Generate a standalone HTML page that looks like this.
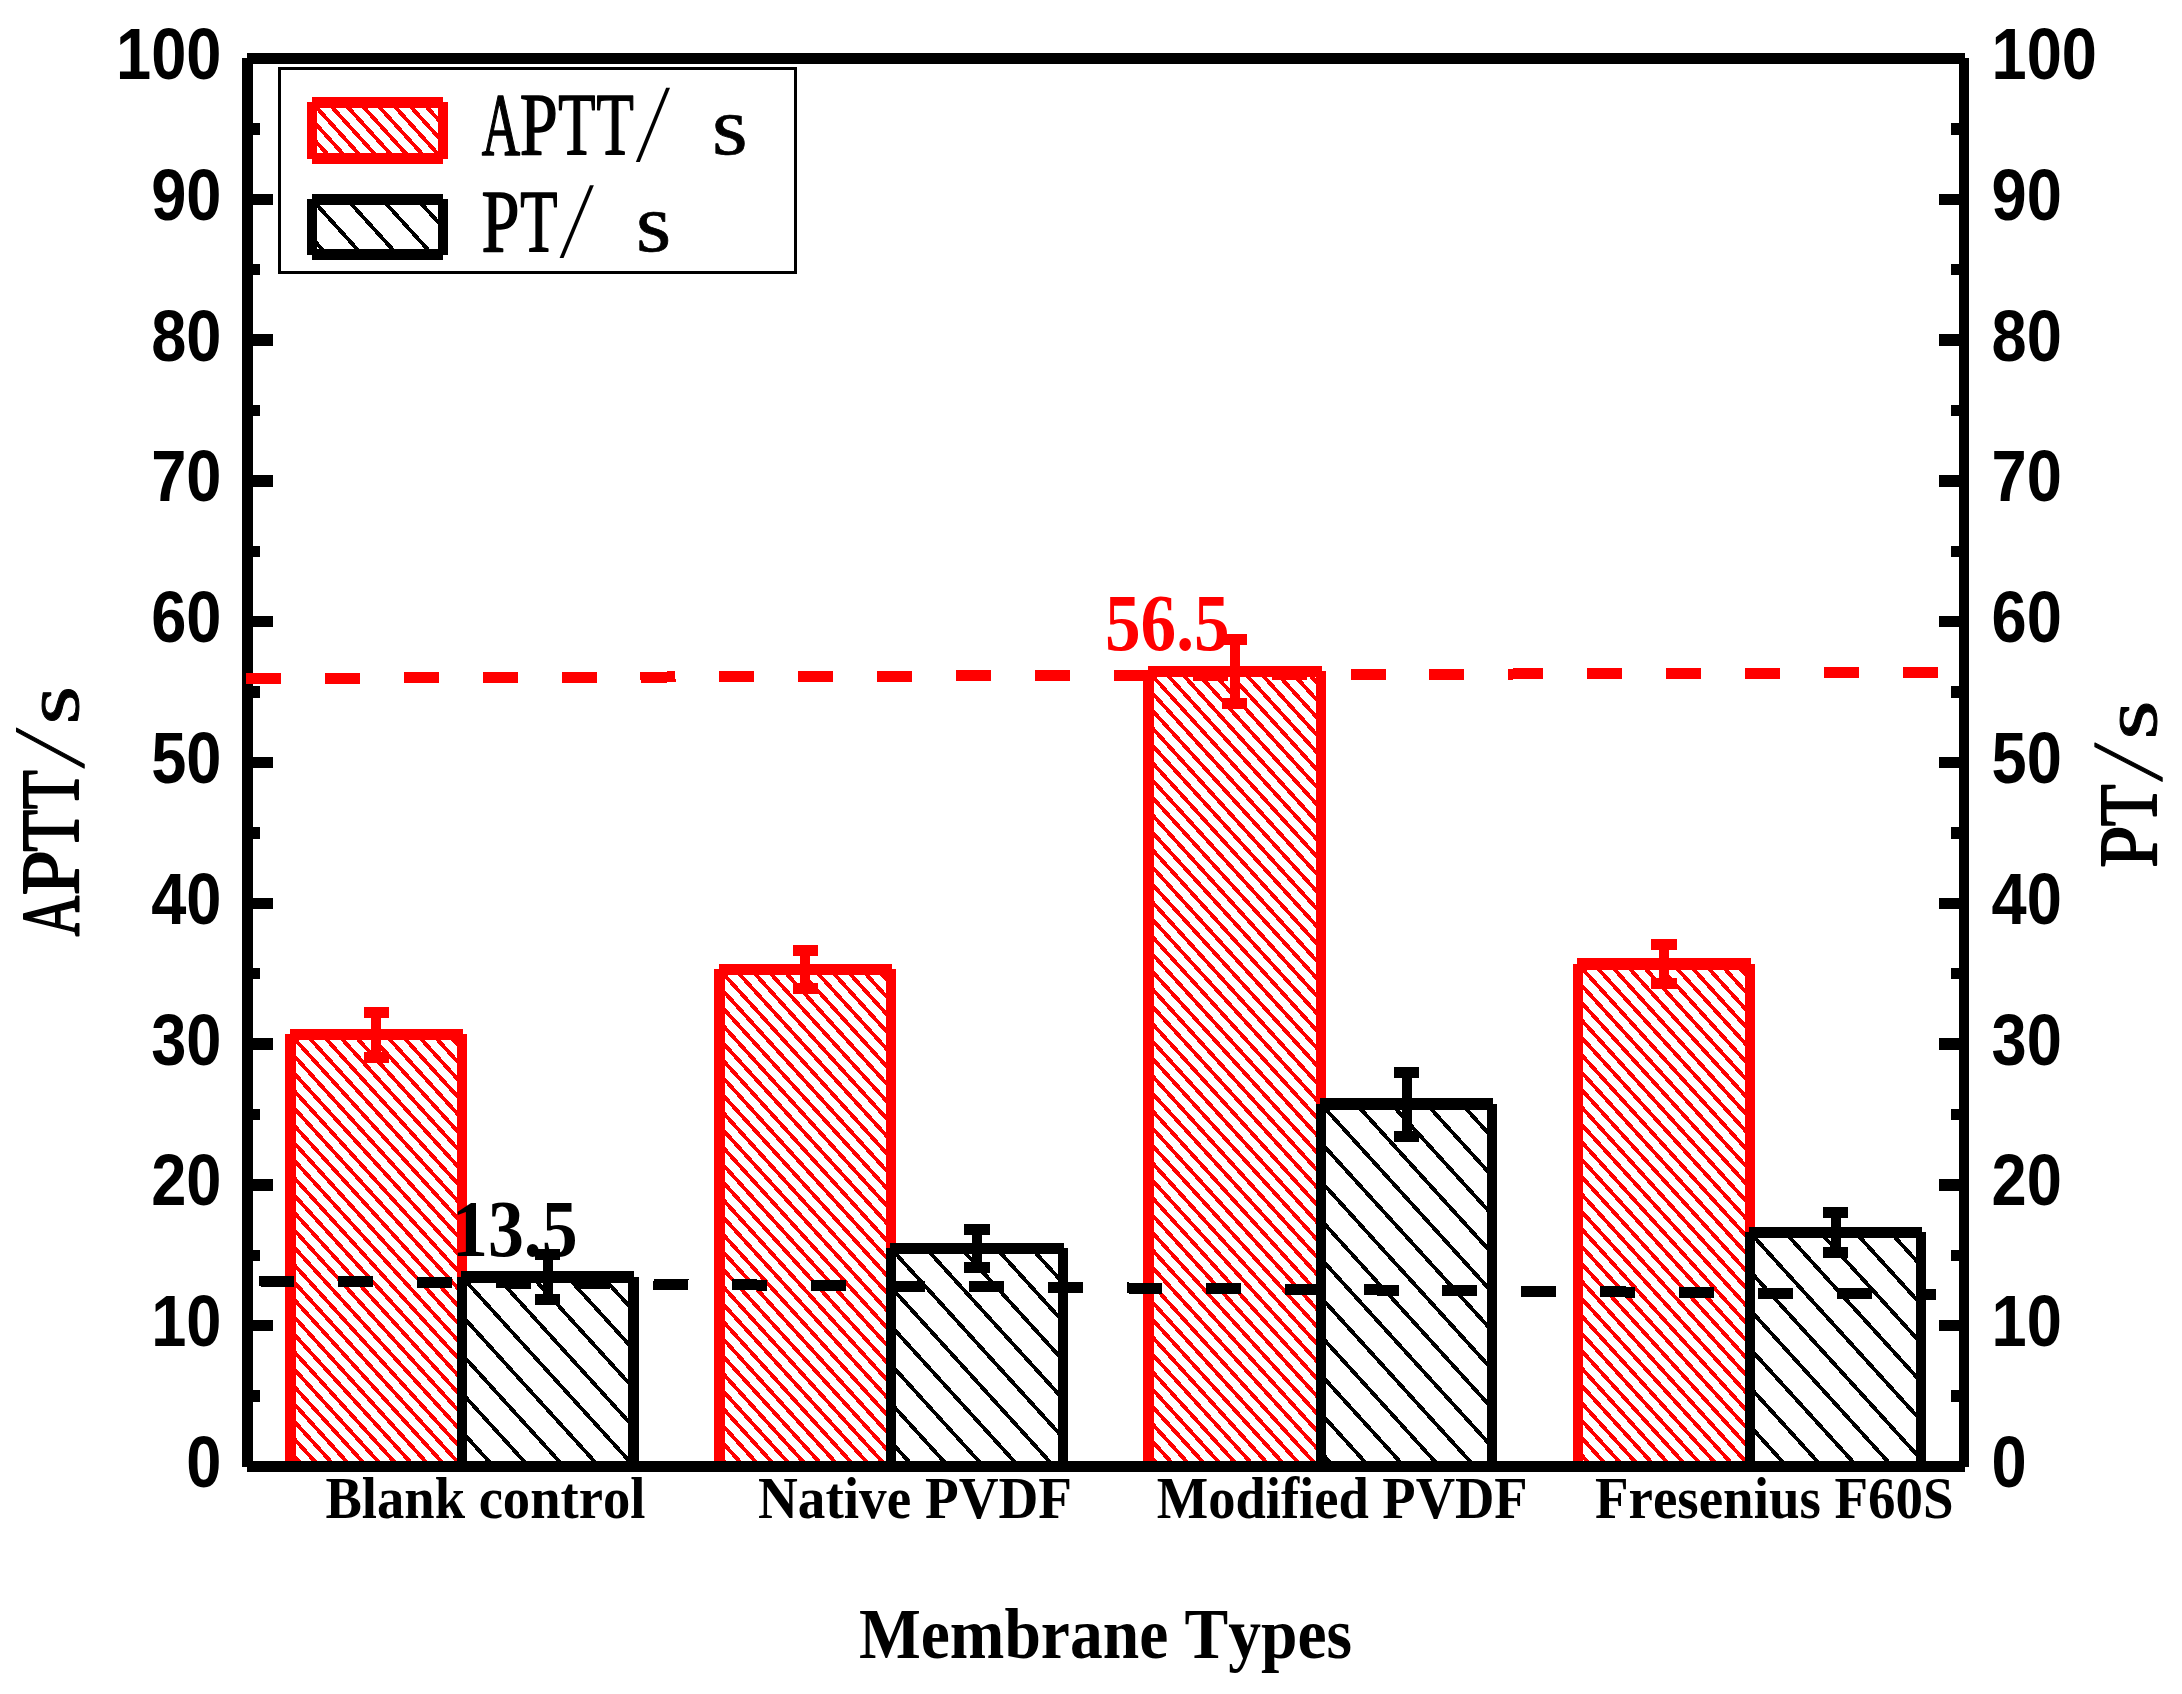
<!DOCTYPE html>
<html lang="en"><head><meta charset="utf-8"><title>APTT and PT of membrane types</title>
<style>html,body{margin:0;padding:0;background:#fff}svg{display:block}.ab{font-family:"Liberation Sans",Arial,sans-serif;font-weight:bold;font-kerning:none}.tb{font-family:"Liberation Serif","Times New Roman",serif;font-weight:bold;font-kerning:none}.ss{font-family:"Liberation Serif","Noto Serif CJK SC",serif}</style></head><body>
<svg width="2182" height="1694" viewBox="0 0 2182 1694">
<rect width="2182" height="1694" fill="#fff"/>
<defs>
<clipPath id="c0"><rect x="290.5" y="1034.5" width="171.5" height="432.0"/></clipPath>
<clipPath id="c1"><rect x="462.0" y="1277.0" width="171.5" height="189.5"/></clipPath>
<clipPath id="c2"><rect x="719.5" y="969.5" width="171.5" height="497.0"/></clipPath>
<clipPath id="c3"><rect x="891.0" y="1248.5" width="172.0" height="218.0"/></clipPath>
<clipPath id="c4"><rect x="1148.5" y="671.5" width="172.5" height="795.0"/></clipPath>
<clipPath id="c5"><rect x="1321.0" y="1104.0" width="171.0" height="362.5"/></clipPath>
<clipPath id="c6"><rect x="1578.0" y="964.0" width="172.0" height="502.5"/></clipPath>
<clipPath id="c7"><rect x="1750.0" y="1232.5" width="171.0" height="234.0"/></clipPath>
<clipPath id="c8"><rect x="312.0" y="102.5" width="131.0" height="56.0"/></clipPath>
<clipPath id="c9"><rect x="312.0" y="199.5" width="131.0" height="55.0"/></clipPath>
</defs>
<path clip-path="url(#c0)" d="M290.5 825.7L462.0 1014.4M290.5 843.1L462.0 1031.8M290.5 860.5L462.0 1049.2M290.5 877.9L462.0 1066.6M290.5 895.3L462.0 1084.0M290.5 912.7L462.0 1101.4M290.5 930.1L462.0 1118.8M290.5 947.5L462.0 1136.2M290.5 964.9L462.0 1153.6M290.5 982.3L462.0 1171.0M290.5 999.7L462.0 1188.4M290.5 1017.1L462.0 1205.8M290.5 1034.5L462.0 1223.2M290.5 1051.9L462.0 1240.6M290.5 1069.3L462.0 1258.0M290.5 1086.7L462.0 1275.4M290.5 1104.1L462.0 1292.8M290.5 1121.5L462.0 1310.2M290.5 1138.9L462.0 1327.6M290.5 1156.3L462.0 1345.0M290.5 1173.7L462.0 1362.4M290.5 1191.1L462.0 1379.8M290.5 1208.5L462.0 1397.2M290.5 1225.9L462.0 1414.6M290.5 1243.3L462.0 1432.0M290.5 1260.7L462.0 1449.4M290.5 1278.1L462.0 1466.8M290.5 1295.5L462.0 1484.2M290.5 1312.9L462.0 1501.6M290.5 1330.3L462.0 1519.0M290.5 1347.7L462.0 1536.4M290.5 1365.1L462.0 1553.8M290.5 1382.5L462.0 1571.2M290.5 1399.9L462.0 1588.6M290.5 1417.3L462.0 1606.0M290.5 1434.7L462.0 1623.4M290.5 1452.1L462.0 1640.8M290.5 1469.5L462.0 1658.2M290.5 1486.9L462.0 1675.6" stroke="#ff0000" stroke-width="3.9" fill="none" shape-rendering="crispEdges"/>
<path clip-path="url(#c1)" d="M462.0 1044.8L633.5 1233.5M462.0 1083.5L633.5 1272.2M462.0 1122.2L633.5 1310.9M462.0 1160.9L633.5 1349.6M462.0 1199.6L633.5 1388.2M462.0 1238.3L633.5 1427.0M462.0 1277.0L633.5 1465.7M462.0 1315.7L633.5 1504.4M462.0 1354.4L633.5 1543.1M462.0 1393.1L633.5 1581.8M462.0 1431.8L633.5 1620.5M462.0 1470.5L633.5 1659.2M462.0 1509.2L633.5 1697.9" stroke="#000" stroke-width="3.85" fill="none" shape-rendering="crispEdges"/>
<path clip-path="url(#c2)" d="M719.5 760.7L891.0 949.4M719.5 778.1L891.0 966.8M719.5 795.5L891.0 984.2M719.5 812.9L891.0 1001.6M719.5 830.3L891.0 1019.0M719.5 847.7L891.0 1036.4M719.5 865.1L891.0 1053.8M719.5 882.5L891.0 1071.2M719.5 899.9L891.0 1088.6M719.5 917.3L891.0 1106.0M719.5 934.7L891.0 1123.4M719.5 952.1L891.0 1140.8M719.5 969.5L891.0 1158.2M719.5 986.9L891.0 1175.6M719.5 1004.3L891.0 1193.0M719.5 1021.7L891.0 1210.4M719.5 1039.1L891.0 1227.8M719.5 1056.5L891.0 1245.2M719.5 1073.9L891.0 1262.6M719.5 1091.3L891.0 1280.0M719.5 1108.7L891.0 1297.4M719.5 1126.1L891.0 1314.8M719.5 1143.5L891.0 1332.2M719.5 1160.9L891.0 1349.6M719.5 1178.3L891.0 1367.0M719.5 1195.7L891.0 1384.4M719.5 1213.1L891.0 1401.8M719.5 1230.5L891.0 1419.2M719.5 1247.9L891.0 1436.6M719.5 1265.3L891.0 1454.0M719.5 1282.7L891.0 1471.4M719.5 1300.1L891.0 1488.8M719.5 1317.5L891.0 1506.2M719.5 1334.9L891.0 1523.6M719.5 1352.3L891.0 1541.0M719.5 1369.7L891.0 1558.4M719.5 1387.1L891.0 1575.8M719.5 1404.5L891.0 1593.2M719.5 1421.9L891.0 1610.6M719.5 1439.3L891.0 1628.0M719.5 1456.7L891.0 1645.3M719.5 1474.1L891.0 1662.8M719.5 1491.5L891.0 1680.2" stroke="#ff0000" stroke-width="3.9" fill="none" shape-rendering="crispEdges"/>
<path clip-path="url(#c3)" d="M891.0 1016.3L1063.0 1205.5M891.0 1055.0L1063.0 1244.2M891.0 1093.7L1063.0 1282.9M891.0 1132.4L1063.0 1321.6M891.0 1171.1L1063.0 1360.3M891.0 1209.8L1063.0 1399.0M891.0 1248.5L1063.0 1437.7M891.0 1287.2L1063.0 1476.4M891.0 1325.9L1063.0 1515.1M891.0 1364.6L1063.0 1553.8M891.0 1403.3L1063.0 1592.5M891.0 1442.0L1063.0 1631.2M891.0 1480.7L1063.0 1669.9M891.0 1519.4L1063.0 1708.6" stroke="#000" stroke-width="3.85" fill="none" shape-rendering="crispEdges"/>
<path clip-path="url(#c4)" d="M1148.5 462.7L1321.0 652.5M1148.5 480.1L1321.0 669.9M1148.5 497.5L1321.0 687.2M1148.5 514.9L1321.0 704.6M1148.5 532.3L1321.0 722.0M1148.5 549.7L1321.0 739.5M1148.5 567.1L1321.0 756.9M1148.5 584.5L1321.0 774.2M1148.5 601.9L1321.0 791.6M1148.5 619.3L1321.0 809.0M1148.5 636.7L1321.0 826.5M1148.5 654.1L1321.0 843.9M1148.5 671.5L1321.0 861.2M1148.5 688.9L1321.0 878.6M1148.5 706.3L1321.0 896.0M1148.5 723.7L1321.0 913.5M1148.5 741.1L1321.0 930.9M1148.5 758.5L1321.0 948.2M1148.5 775.9L1321.0 965.6M1148.5 793.3L1321.0 983.0M1148.5 810.7L1321.0 1000.5M1148.5 828.1L1321.0 1017.9M1148.5 845.5L1321.0 1035.2M1148.5 862.9L1321.0 1052.7M1148.5 880.3L1321.0 1070.0M1148.5 897.7L1321.0 1087.5M1148.5 915.1L1321.0 1104.8M1148.5 932.5L1321.0 1122.2M1148.5 949.9L1321.0 1139.7M1148.5 967.3L1321.0 1157.0M1148.5 984.7L1321.0 1174.5M1148.5 1002.1L1321.0 1191.8M1148.5 1019.5L1321.0 1209.2M1148.5 1036.9L1321.0 1226.7M1148.5 1054.3L1321.0 1244.0M1148.5 1071.7L1321.0 1261.5M1148.5 1089.1L1321.0 1278.8M1148.5 1106.5L1321.0 1296.2M1148.5 1123.9L1321.0 1313.7M1148.5 1141.3L1321.0 1331.0M1148.5 1158.7L1321.0 1348.4M1148.5 1176.1L1321.0 1365.8M1148.5 1193.5L1321.0 1383.2M1148.5 1210.9L1321.0 1400.7M1148.5 1228.3L1321.0 1418.0M1148.5 1245.7L1321.0 1435.4M1148.5 1263.1L1321.0 1452.8M1148.5 1280.5L1321.0 1470.2M1148.5 1297.9L1321.0 1487.7M1148.5 1315.3L1321.0 1505.0M1148.5 1332.7L1321.0 1522.4M1148.5 1350.1L1321.0 1539.8M1148.5 1367.5L1321.0 1557.2M1148.5 1384.9L1321.0 1574.7M1148.5 1402.3L1321.0 1592.0M1148.5 1419.7L1321.0 1609.4M1148.5 1437.1L1321.0 1626.8M1148.5 1454.5L1321.0 1644.2M1148.5 1471.9L1321.0 1661.7M1148.5 1489.3L1321.0 1679.0" stroke="#ff0000" stroke-width="3.9" fill="none" shape-rendering="crispEdges"/>
<path clip-path="url(#c5)" d="M1321.0 871.8L1492.0 1059.9M1321.0 910.5L1492.0 1098.6M1321.0 949.2L1492.0 1137.3M1321.0 987.9L1492.0 1176.0M1321.0 1026.6L1492.0 1214.7M1321.0 1065.3L1492.0 1253.4M1321.0 1104.0L1492.0 1292.1M1321.0 1142.7L1492.0 1330.8M1321.0 1181.4L1492.0 1369.5M1321.0 1220.1L1492.0 1408.2M1321.0 1258.8L1492.0 1446.9M1321.0 1297.5L1492.0 1485.6M1321.0 1336.2L1492.0 1524.3M1321.0 1374.9L1492.0 1563.0M1321.0 1413.6L1492.0 1601.7M1321.0 1452.3L1492.0 1640.4M1321.0 1491.0L1492.0 1679.1M1321.0 1529.7L1492.0 1717.8" stroke="#000" stroke-width="3.85" fill="none" shape-rendering="crispEdges"/>
<path clip-path="url(#c6)" d="M1578.0 755.2L1750.0 944.4M1578.0 772.6L1750.0 961.8M1578.0 790.0L1750.0 979.2M1578.0 807.4L1750.0 996.6M1578.0 824.8L1750.0 1014.0M1578.0 842.2L1750.0 1031.4M1578.0 859.6L1750.0 1048.8M1578.0 877.0L1750.0 1066.2M1578.0 894.4L1750.0 1083.6M1578.0 911.8L1750.0 1101.0M1578.0 929.2L1750.0 1118.4M1578.0 946.6L1750.0 1135.8M1578.0 964.0L1750.0 1153.2M1578.0 981.4L1750.0 1170.6M1578.0 998.8L1750.0 1188.0M1578.0 1016.2L1750.0 1205.4M1578.0 1033.6L1750.0 1222.8M1578.0 1051.0L1750.0 1240.2M1578.0 1068.4L1750.0 1257.6M1578.0 1085.8L1750.0 1275.0M1578.0 1103.2L1750.0 1292.4M1578.0 1120.6L1750.0 1309.8M1578.0 1138.0L1750.0 1327.2M1578.0 1155.4L1750.0 1344.6M1578.0 1172.8L1750.0 1362.0M1578.0 1190.2L1750.0 1379.4M1578.0 1207.6L1750.0 1396.8M1578.0 1225.0L1750.0 1414.2M1578.0 1242.4L1750.0 1431.6M1578.0 1259.8L1750.0 1449.0M1578.0 1277.2L1750.0 1466.4M1578.0 1294.6L1750.0 1483.8M1578.0 1312.0L1750.0 1501.2M1578.0 1329.4L1750.0 1518.6M1578.0 1346.8L1750.0 1536.0M1578.0 1364.2L1750.0 1553.4M1578.0 1381.6L1750.0 1570.8M1578.0 1399.0L1750.0 1588.2M1578.0 1416.4L1750.0 1605.6M1578.0 1433.8L1750.0 1623.0M1578.0 1451.2L1750.0 1640.4M1578.0 1468.6L1750.0 1657.8M1578.0 1486.0L1750.0 1675.2" stroke="#ff0000" stroke-width="3.9" fill="none" shape-rendering="crispEdges"/>
<path clip-path="url(#c7)" d="M1750.0 1000.3L1921.0 1188.4M1750.0 1039.0L1921.0 1227.1M1750.0 1077.7L1921.0 1265.8M1750.0 1116.4L1921.0 1304.5M1750.0 1155.1L1921.0 1343.2M1750.0 1193.8L1921.0 1381.9M1750.0 1232.5L1921.0 1420.6M1750.0 1271.2L1921.0 1459.3M1750.0 1309.9L1921.0 1498.0M1750.0 1348.6L1921.0 1536.7M1750.0 1387.3L1921.0 1575.4M1750.0 1426.0L1921.0 1614.1M1750.0 1464.7L1921.0 1652.8M1750.0 1503.4L1921.0 1691.5M1750.0 1542.1L1921.0 1730.2" stroke="#000" stroke-width="3.85" fill="none" shape-rendering="crispEdges"/>
<path clip-path="url(#c8)" d="M312.0 -71.5L443.0 72.6M312.0 -54.1L443.0 90.0M312.0 -36.7L443.0 107.4M312.0 -19.3L443.0 124.8M312.0 -1.9L443.0 142.2M312.0 15.5L443.0 159.6M312.0 32.9L443.0 177.0M312.0 50.3L443.0 194.4M312.0 67.7L443.0 211.8M312.0 85.1L443.0 229.2M312.0 102.5L443.0 246.6M312.0 119.9L443.0 264.0M312.0 137.3L443.0 281.4M312.0 154.7L443.0 298.8M312.0 172.1L443.0 316.2M312.0 189.5L443.0 333.6" stroke="#ff0000" stroke-width="3.9" fill="none" shape-rendering="crispEdges"/>
<path clip-path="url(#c9)" d="M312.0 6.0L443.0 150.1M312.0 44.7L443.0 188.8M312.0 83.4L443.0 227.5M312.0 122.1L443.0 266.2M312.0 160.8L443.0 304.9M312.0 199.5L443.0 343.6M312.0 238.2L443.0 382.3M312.0 276.9L443.0 421.0M312.0 315.6L443.0 459.7" stroke="#000" stroke-width="3.85" fill="none" shape-rendering="crispEdges"/>
<g shape-rendering="crispEdges">
<rect x="285.0" y="1034.0" width="11.0" height="433.0" fill="#ff0000"/><rect x="457.0" y="1034.0" width="10.0" height="433.0" fill="#ff0000"/><rect x="289.8" y="1029.0" width="172.7" height="11.0" fill="#ff0000"/>
<rect x="457.0" y="1276.5" width="10.0" height="190.5" fill="#000"/><rect x="628.0" y="1276.5" width="11.0" height="190.5" fill="#000"/><rect x="461.3" y="1271.0" width="172.7" height="12.0" fill="#000"/>
<rect x="714.0" y="969.0" width="11.0" height="498.0" fill="#ff0000"/><rect x="886.0" y="969.0" width="10.0" height="498.0" fill="#ff0000"/><rect x="718.8" y="964.0" width="172.7" height="11.0" fill="#ff0000"/>
<rect x="886.0" y="1248.0" width="10.0" height="219.0" fill="#000"/><rect x="1058.0" y="1248.0" width="10.0" height="219.0" fill="#000"/><rect x="890.3" y="1243.0" width="173.2" height="11.0" fill="#000"/>
<rect x="1143.0" y="671.0" width="11.0" height="796.0" fill="#ff0000"/><rect x="1316.0" y="671.0" width="10.0" height="796.0" fill="#ff0000"/><rect x="1147.8" y="666.0" width="173.7" height="11.0" fill="#ff0000"/>
<rect x="1316.0" y="1103.5" width="10.0" height="363.5" fill="#000"/><rect x="1487.0" y="1103.5" width="10.0" height="363.5" fill="#000"/><rect x="1320.3" y="1098.0" width="172.2" height="12.0" fill="#000"/>
<rect x="1573.0" y="963.5" width="10.0" height="503.5" fill="#ff0000"/><rect x="1745.0" y="963.5" width="10.0" height="503.5" fill="#ff0000"/><rect x="1577.3" y="958.0" width="173.2" height="12.0" fill="#ff0000"/>
<rect x="1745.0" y="1232.0" width="10.0" height="235.0" fill="#000"/><rect x="1916.0" y="1232.0" width="10.0" height="235.0" fill="#000"/><rect x="1749.3" y="1227.0" width="172.2" height="11.0" fill="#000"/>
</g>
<g shape-rendering="crispEdges">
<rect x="371.2" y="1012.0" width="10.0" height="45.0" fill="#ff0000"/><rect x="363.6" y="1006.5" width="25.4" height="11.0" fill="#ff0000"/><rect x="363.6" y="1051.5" width="25.4" height="11.0" fill="#ff0000"/>
<rect x="542.8" y="1254.3" width="10.0" height="45.4" fill="#000"/><rect x="535.0" y="1248.8" width="25.4" height="11.0" fill="#000"/><rect x="535.0" y="1294.2" width="25.4" height="11.0" fill="#000"/>
<rect x="800.2" y="950.5" width="10.0" height="38.0" fill="#ff0000"/><rect x="792.5" y="945.0" width="25.4" height="11.0" fill="#ff0000"/><rect x="792.5" y="983.0" width="25.4" height="11.0" fill="#ff0000"/>
<rect x="972.0" y="1229.5" width="10.0" height="38.0" fill="#000"/><rect x="964.3" y="1224.0" width="25.4" height="11.0" fill="#000"/><rect x="964.3" y="1262.0" width="25.4" height="11.0" fill="#000"/>
<rect x="1229.8" y="639.5" width="10.0" height="64.0" fill="#ff0000"/><rect x="1222.0" y="634.0" width="25.4" height="11.0" fill="#ff0000"/><rect x="1222.0" y="698.0" width="25.4" height="11.0" fill="#ff0000"/>
<rect x="1401.5" y="1072.0" width="10.0" height="64.0" fill="#000"/><rect x="1393.8" y="1066.5" width="25.4" height="11.0" fill="#000"/><rect x="1393.8" y="1130.5" width="25.4" height="11.0" fill="#000"/>
<rect x="1659.0" y="944.7" width="10.0" height="38.6" fill="#ff0000"/><rect x="1651.3" y="939.2" width="25.4" height="11.0" fill="#ff0000"/><rect x="1651.3" y="977.8" width="25.4" height="11.0" fill="#ff0000"/>
<rect x="1830.5" y="1212.5" width="10.0" height="40.0" fill="#000"/><rect x="1822.8" y="1207.0" width="25.4" height="11.0" fill="#000"/><rect x="1822.8" y="1247.0" width="25.4" height="11.0" fill="#000"/>
</g>
<g shape-rendering="crispEdges" fill="#000">
<rect x="242" y="58" width="11" height="1409"/>
<rect x="1959" y="58" width="10" height="1409"/>
<rect x="247" y="53" width="1718" height="11"/>
<rect x="247" y="1461" width="1718" height="11"/>
<rect x="253" y="1390.4" width="7" height="11.4"/>
<rect x="1951" y="1390.4" width="8" height="11.4"/>
<rect x="253" y="1320.0" width="20" height="11.4"/>
<rect x="1939" y="1320.0" width="20" height="11.4"/>
<rect x="253" y="1249.6" width="7" height="11.4"/>
<rect x="1951" y="1249.6" width="8" height="11.4"/>
<rect x="253" y="1179.2" width="20" height="11.4"/>
<rect x="1939" y="1179.2" width="20" height="11.4"/>
<rect x="253" y="1108.8" width="7" height="11.4"/>
<rect x="1951" y="1108.8" width="8" height="11.4"/>
<rect x="253" y="1038.4" width="20" height="11.4"/>
<rect x="1939" y="1038.4" width="20" height="11.4"/>
<rect x="253" y="968.0" width="7" height="11.4"/>
<rect x="1951" y="968.0" width="8" height="11.4"/>
<rect x="253" y="897.6" width="20" height="11.4"/>
<rect x="1939" y="897.6" width="20" height="11.4"/>
<rect x="253" y="827.2" width="7" height="11.4"/>
<rect x="1951" y="827.2" width="8" height="11.4"/>
<rect x="253" y="756.8" width="20" height="11.4"/>
<rect x="1939" y="756.8" width="20" height="11.4"/>
<rect x="253" y="686.4" width="7" height="11.4"/>
<rect x="1951" y="686.4" width="8" height="11.4"/>
<rect x="253" y="616.0" width="20" height="11.4"/>
<rect x="1939" y="616.0" width="20" height="11.4"/>
<rect x="253" y="545.6" width="7" height="11.4"/>
<rect x="1951" y="545.6" width="8" height="11.4"/>
<rect x="253" y="475.2" width="20" height="11.4"/>
<rect x="1939" y="475.2" width="20" height="11.4"/>
<rect x="253" y="404.8" width="7" height="11.4"/>
<rect x="1951" y="404.8" width="8" height="11.4"/>
<rect x="253" y="334.4" width="20" height="11.4"/>
<rect x="1939" y="334.4" width="20" height="11.4"/>
<rect x="253" y="264.0" width="7" height="11.4"/>
<rect x="1951" y="264.0" width="8" height="11.4"/>
<rect x="253" y="193.6" width="20" height="11.4"/>
<rect x="1939" y="193.6" width="20" height="11.4"/>
<rect x="253" y="123.2" width="7" height="11.4"/>
<rect x="1951" y="123.2" width="8" height="11.4"/>
</g>
<line x1="246" y1="678.5" x2="1938" y2="672.5" stroke="#ff0000" stroke-width="11" stroke-dasharray="35 43.9" shape-rendering="crispEdges"/>
<line x1="259" y1="1281" x2="1936" y2="1294.5" stroke="#000" stroke-width="11" stroke-dasharray="35 43.9" shape-rendering="crispEdges"/>
<text class="ab" font-size="72" text-anchor="end" transform="translate(221.5 1487.0) scale(0.878 1)">0</text>
<text class="ab" font-size="72" text-anchor="start" transform="translate(1991.5 1487.0) scale(0.878 1)">0</text>
<text class="ab" font-size="72" text-anchor="end" transform="translate(221.5 1346.2) scale(0.878 1)">10</text>
<text class="ab" font-size="72" text-anchor="start" transform="translate(1991.5 1346.2) scale(0.878 1)">10</text>
<text class="ab" font-size="72" text-anchor="end" transform="translate(221.5 1205.4) scale(0.878 1)">20</text>
<text class="ab" font-size="72" text-anchor="start" transform="translate(1991.5 1205.4) scale(0.878 1)">20</text>
<text class="ab" font-size="72" text-anchor="end" transform="translate(221.5 1064.6) scale(0.878 1)">30</text>
<text class="ab" font-size="72" text-anchor="start" transform="translate(1991.5 1064.6) scale(0.878 1)">30</text>
<text class="ab" font-size="72" text-anchor="end" transform="translate(221.5 923.8) scale(0.878 1)">40</text>
<text class="ab" font-size="72" text-anchor="start" transform="translate(1991.5 923.8) scale(0.878 1)">40</text>
<text class="ab" font-size="72" text-anchor="end" transform="translate(221.5 783.0) scale(0.878 1)">50</text>
<text class="ab" font-size="72" text-anchor="start" transform="translate(1991.5 783.0) scale(0.878 1)">50</text>
<text class="ab" font-size="72" text-anchor="end" transform="translate(221.5 642.2) scale(0.878 1)">60</text>
<text class="ab" font-size="72" text-anchor="start" transform="translate(1991.5 642.2) scale(0.878 1)">60</text>
<text class="ab" font-size="72" text-anchor="end" transform="translate(221.5 501.4) scale(0.878 1)">70</text>
<text class="ab" font-size="72" text-anchor="start" transform="translate(1991.5 501.4) scale(0.878 1)">70</text>
<text class="ab" font-size="72" text-anchor="end" transform="translate(221.5 360.6) scale(0.878 1)">80</text>
<text class="ab" font-size="72" text-anchor="start" transform="translate(1991.5 360.6) scale(0.878 1)">80</text>
<text class="ab" font-size="72" text-anchor="end" transform="translate(221.5 219.8) scale(0.878 1)">90</text>
<text class="ab" font-size="72" text-anchor="start" transform="translate(1991.5 219.8) scale(0.878 1)">90</text>
<text class="ab" font-size="72" text-anchor="end" transform="translate(221.5 79.0) scale(0.878 1)">100</text>
<text class="ab" font-size="72" text-anchor="start" transform="translate(1991.5 79.0) scale(0.878 1)">100</text>
<text class="tb" font-size="59" text-anchor="middle" transform="translate(485.4 1517.7) scale(0.925 1)">Blank control</text>
<text class="tb" font-size="59" text-anchor="middle" transform="translate(915 1517.7) scale(0.935 1)">Native PVDF</text>
<text class="tb" font-size="59" text-anchor="middle" transform="translate(1342.2 1517.7) scale(0.924 1)">Modified PVDF</text>
<text class="tb" font-size="59" text-anchor="middle" transform="translate(1774.3 1517.7) scale(0.931 1)">Fresenius F60S</text>
<text class="tb" font-size="72.8" text-anchor="middle" transform="translate(1105.5 1657.7) scale(0.90 1)">Membrane Types</text>
<text class="tb" font-size="80.5" fill="#ff0000" text-anchor="start" transform="translate(1105 650) scale(0.885 1)">56.5</text>
<text class="tb" font-size="80" fill="#000" text-anchor="start" transform="translate(452 1256) scale(0.897 1)">13.5</text>
<rect x="279.5" y="68.5" width="515.5" height="204.3" fill="none" stroke="#000" stroke-width="3" shape-rendering="crispEdges"/>
<g shape-rendering="crispEdges"><rect x="307.0" y="102.0" width="10.0" height="57.0" fill="#ff0000"/><rect x="438.0" y="102.0" width="10.0" height="57.0" fill="#ff0000"/><rect x="312.0" y="97.0" width="131.0" height="11.0" fill="#ff0000"/><rect x="312.0" y="153.0" width="131.0" height="11.0" fill="#ff0000"/><rect x="307.0" y="199.0" width="10.0" height="56.0" fill="#000"/><rect x="438.0" y="199.0" width="10.0" height="56.0" fill="#000"/><rect x="312.0" y="194.0" width="131.0" height="11.0" fill="#000"/><rect x="312.0" y="249.0" width="131.0" height="11.0" fill="#000"/></g>
<g transform="translate(0 154.1)"><text class="ss" font-size="88.6" transform="matrix(0.6004 0 0 1 481.75 0)" stroke="#000" stroke-width="1.6" stroke-linejoin="round">A</text><text class="ss" font-size="88.6" transform="matrix(0.7709 0 0 1 519.67 0)" stroke="#000" stroke-width="1.6" stroke-linejoin="round">P</text><text class="ss" font-size="88.6" transform="matrix(0.6871 0 0 1 558.33 0)" stroke="#000" stroke-width="1.6" stroke-linejoin="round">T</text><text class="ss" font-size="88.6" transform="matrix(0.6890 0 0 1 596.43 0)" stroke="#000" stroke-width="1.6" stroke-linejoin="round">T</text><text class="ss" font-size="88.6" transform="matrix(0.92 0 -0.1946 1.2535 635.97 6.79)">/</text><text class="ss" font-size="88.6" transform="matrix(1.0330 0 0 0.92 711.95 0)" stroke="#000" stroke-width="0.8" stroke-linejoin="round">s</text></g>
<g transform="translate(0 250.7)"><text class="ss" font-size="88.6" transform="matrix(0.7709 0 0 1 481.57 0)" stroke="#000" stroke-width="1.6" stroke-linejoin="round">P</text><text class="ss" font-size="88.6" transform="matrix(0.6871 0 0 1 520.13 0)" stroke="#000" stroke-width="1.6" stroke-linejoin="round">T</text><text class="ss" font-size="88.6" transform="matrix(0.92 0 -0.1963 1.2279 559.87 6.01)">/</text><text class="ss" font-size="88.6" transform="matrix(1.0189 0 0 0.92 636.00 0)" stroke="#000" stroke-width="0.8" stroke-linejoin="round">s</text></g>
<g transform="translate(78 936.3) rotate(-90)"><text class="ss" font-size="83" transform="matrix(0.6772 0 0 1 0.12 0)" stroke="#000" stroke-width="2.0" stroke-linejoin="round">A</text><text class="ss" font-size="83" transform="matrix(0.9749 0 0 1 41.05 0)" stroke="#000" stroke-width="2.0" stroke-linejoin="round">P</text><text class="ss" font-size="83" transform="matrix(0.8274 0 0 1 84.45 0)" stroke="#000" stroke-width="2.0" stroke-linejoin="round">T</text><text class="ss" font-size="83" transform="matrix(0.7727 0 0 1 126.99 0)" stroke="#000" stroke-width="2.0" stroke-linejoin="round">T</text><text class="ss" font-size="83" transform="matrix(0.92 0 -0.3362 1.2103 168.58 5.00)" stroke="#000" stroke-width="1.3" stroke-linejoin="round">/</text><text class="ss" font-size="83" transform="matrix(1.1934 0 0 0.93 211.83 0)" stroke="#000" stroke-width="1.0" stroke-linejoin="round">s</text></g>
<g transform="translate(2156.3 866.3) rotate(-90)"><text class="ss" font-size="83" transform="matrix(0.9140 0 0 1 -1.36 0)" stroke="#000" stroke-width="2.0" stroke-linejoin="round">P</text><text class="ss" font-size="83" transform="matrix(0.8274 0 0 1 40.15 0)" stroke="#000" stroke-width="2.0" stroke-linejoin="round">T</text><text class="ss" font-size="83" transform="matrix(0.92 0 -0.3052 1.2048 85.25 4.70)" stroke="#000" stroke-width="1.3" stroke-linejoin="round">/</text><text class="ss" font-size="83" transform="matrix(1.2046 0 0 0.93 126.80 0)" stroke="#000" stroke-width="1.0" stroke-linejoin="round">s</text></g>
</svg></body></html>
